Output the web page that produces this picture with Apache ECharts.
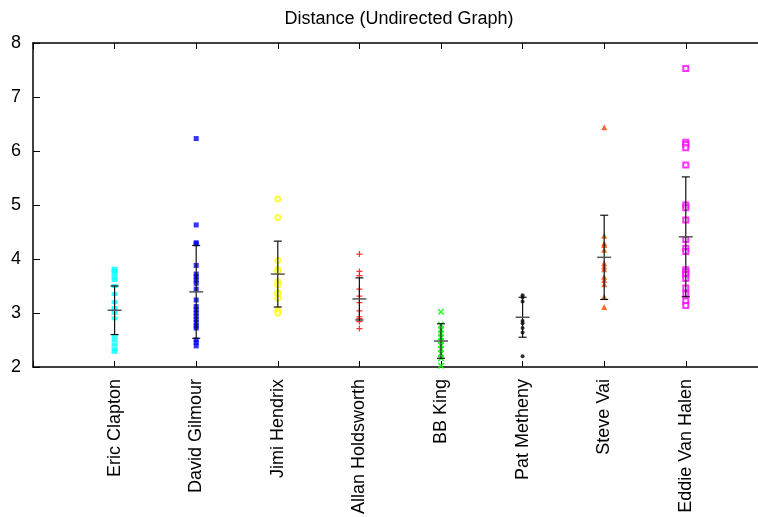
<!DOCTYPE html>
<html>
<head>
<meta charset="utf-8">
<script src="https://cdn.jsdelivr.net/npm/echarts@6/dist/echarts.min.js"></script>
<style>
  html, body { margin: 0; padding: 0; background: #fff; }
  #chart { width: 758px; height: 517px; }
</style>
</head>
<body>
<div id="chart"></div>
<script>
const categories = [
  "Eric Clapton", "David Gilmour", "Jimi Hendrix", "Allan Holdsworth",
  "BB King", "Pat Metheny", "Steve Vai", "Eddie Van Halen",
];
const yTicks = [2, 3, 4, 5, 6, 7, 8];

// distances per guitarist
const clapton = [3.82, 3.78, 3.74, 3.67, 3.61, 3.50, 3.35, 3.20, 3.09, 3.00, 2.90, 2.56, 2.49, 2.41, 2.33, 2.28];
const gilmour = [6.23, 4.63, 4.30, 4.28, 3.88, 3.72, 3.67, 3.61, 3.55, 3.44, 3.24, 3.12, 3.06, 3.00, 2.94, 2.88, 2.82, 2.76, 2.72, 2.50, 2.45, 2.39];
const hendrix = [5.11, 4.77, 3.97, 3.81, 3.77, 3.58, 3.52, 3.38, 3.35, 3.27, 3.04, 3.00];
const holdsworth = [4.09, 3.77, 3.69, 3.44, 3.31, 3.19, 3.04, 2.93, 2.90, 2.84, 2.71];
const bbKing = [3.02, 2.78, 2.69, 2.62, 2.55, 2.48, 2.40, 2.33, 2.25, 2.16, 2.02];
const metheny = [3.33, 3.29, 3.21, 2.85, 2.81, 2.72, 2.64, 2.20];
const vai = [6.44, 4.43, 4.29, 4.26, 4.17, 3.92, 3.86, 3.81, 3.67, 3.61, 3.53, 3.30, 3.11];
const vanHalen = [7.53, 6.16, 6.12, 6.06, 5.74, 5.00, 4.95, 4.72, 4.36, 4.20, 4.14, 3.80, 3.76, 3.71, 3.64, 3.46, 3.35, 3.22, 3.14];

// mean and standard deviation shown by the error bars
const means = [3.05, 3.39, 3.72, 3.26, 2.48, 2.92, 4.03, 4.41];
const stds = [0.45, 0.86, 0.61, 0.39, 0.32, 0.37, 0.78, 1.11];

const groups = [clapton, gilmour, hendrix, holdsworth, bbKing, metheny, vai, vanHalen];
const colors = ["#00ffff", "#0000ff", "#ffff00", "#ff0000", "#00ff00", "#000000", "#ff4500", "#ff00ff"];
const symbols = [
  "rect",
  "path://M0,0H5V5H0Z",
  "emptyCircle",
  "path://M2,0H3V2H5V3H3V5H2V3H0V2H2Z",
  "path://M0,0L1,0L2.5,1.5L4,0L5,0L5,1L3.5,2.5L5,4L5,5L4,5L2.5,3.5L1,5L0,5L0,4L1.5,2.5L0,1Z",
  "circle",
  "triangle",
  "emptyRect",
];
const symbolSizes = [[6, 4], 5, 5, 6, 6, 4, 6, 5];

const font = "Liberation Sans, Arial, sans-serif";

const scatterSeries = groups.map((vals, i) => ({
  name: categories[i],
  type: "scatter",
  symbol: symbols[i],
  symbolSize: symbolSizes[i],
  itemStyle: { color: colors[i], borderColor: colors[i], borderWidth: symbols[i].startsWith("empty") ? 1 : 0 },
  z: 2,
  data: vals.map((v) => [i + 1, v]),
}));

const errorSeries = {
  type: "custom",
  z: 5,
  silent: true,
  renderItem: (params, api) => {
    const x = api.value(0);
    const m = api.value(1);
    const s = api.value(2);
    const top = api.coord([x, m + s]);
    const bot = api.coord([x, m - s]);
    const mid = api.coord([x, m]);
    const cap = 4;
    const bar = 7;
    return {
      type: "group",
      children: [
        { type: "line", shape: { x1: top[0], y1: top[1], x2: bot[0], y2: bot[1] }, style: { stroke: "#111", lineWidth: 1.2 } },
        { type: "line", shape: { x1: top[0] - cap, y1: top[1], x2: top[0] + cap, y2: top[1] }, style: { stroke: "#111", lineWidth: 1.2 } },
        { type: "line", shape: { x1: bot[0] - cap, y1: bot[1], x2: bot[0] + cap, y2: bot[1] }, style: { stroke: "#111", lineWidth: 1.2 } },
        { type: "line", shape: { x1: mid[0] - bar, y1: mid[1], x2: mid[0] + bar, y2: mid[1] }, style: { stroke: "#555", lineWidth: 1.5 } },
      ],
    };
  },
  data: means.map((m, i) => [i + 1, m, stds[i]]),
};

// plot runs past the right edge of the picture, so the axis ends short of 9
const xMax = 8.885;

const option = {
  animation: false,
  title: {
    text: "Distance (Undirected Graph)",
    left: 394,
    top: 5,
    textAlign: "center",
    textStyle: { fontFamily: font, fontSize: 18, fontWeight: "normal", color: "#000" },
  },
  grid: { left: 33, right: 0, top: 43, bottom: 150 },
  xAxis: [
    {
      type: "value",
      min: 0,
      max: xMax,
      interval: 1,
      axisLine: { show: true, lineStyle: { color: "#000", width: 1.5 } },
      axisTick: { show: true, inside: true, length: 6, lineStyle: { color: "#000" } },
      splitLine: { show: false },
      axisLabel: {
        rotate: 90,
        margin: 12,
        fontFamily: font,
        fontSize: 18,
        color: "#000",
        showMaxLabel: false,
        formatter: (v) => (Number.isInteger(v) ? categories[v - 1] || "" : ""),
      },
    },
    {
      type: "value",
      position: "top",
      min: 0,
      max: xMax,
      interval: 1,
      axisLine: { show: true, onZero: false, lineStyle: { color: "#000", width: 1.5 } },
      axisTick: { show: true, inside: true, length: 6, lineStyle: { color: "#000" } },
      splitLine: { show: false },
      axisLabel: { show: false },
    },
  ],
  yAxis: {
    type: "value",
    min: yTicks[0],
    max: yTicks[yTicks.length - 1],
    interval: 1,
    axisLine: { show: true, lineStyle: { color: "#000", width: 1.5 } },
    axisTick: { show: true, inside: true, length: 7, lineStyle: { color: "#000" } },
    splitLine: { show: false },
    axisLabel: { margin: 12, fontFamily: font, fontSize: 18, color: "#000" },
  },
  series: [...scatterSeries, errorSeries],
};

const chart = echarts.init(document.getElementById("chart"), null, { renderer: "canvas" });
chart.setOption(option);
</script>
</body>
</html>
